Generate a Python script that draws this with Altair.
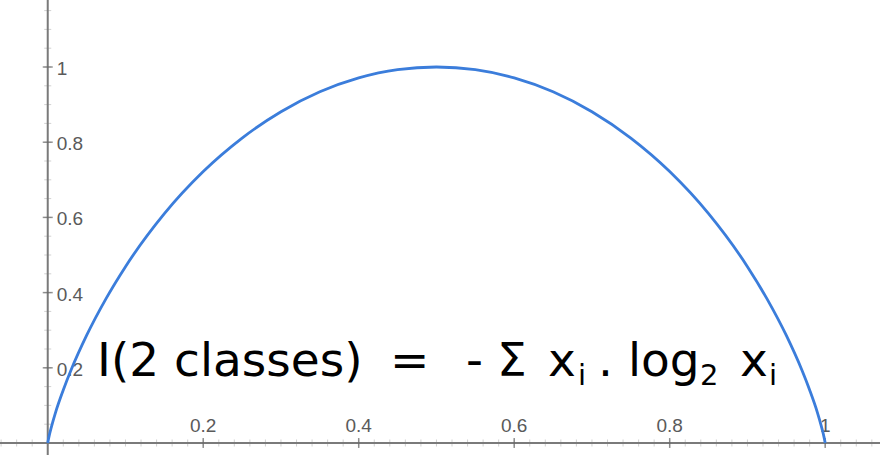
import altair as alt
import pandas as pd

# Binary entropy curve, sampled along p
p_vals = [0, 0.001, 0.005, 0.01, 0.02, 0.03, 0.05, 0.075, 0.1, 0.15, 0.2, 0.25,
          0.3, 0.35, 0.4, 0.45, 0.5, 0.55, 0.6, 0.65, 0.7, 0.75, 0.8, 0.85, 0.9,
          0.925, 0.95, 0.97, 0.98, 0.99, 0.995, 0.999, 1]
h_vals = [0, 0.011, 0.045, 0.081, 0.141, 0.194, 0.286, 0.384, 0.469, 0.610, 0.722,
          0.811, 0.881, 0.934, 0.971, 0.993, 1.0, 0.993, 0.971, 0.934, 0.881, 0.811,
          0.722, 0.610, 0.469, 0.384, 0.286, 0.194, 0.141, 0.081, 0.045, 0.011, 0]

# Axis ticks and labels
x_major = [0.2, 0.4, 0.6, 0.8, 1.0]
x_labels = ["0.2", "0.4", "0.6", "0.8", "1"]
y_major = [0.2, 0.4, 0.6, 0.8, 1.0]
y_labels = ["0.2", "0.4", "0.6", "0.8", "1"]
x_minor = [round(-0.06 + 0.02 * i, 2) for i in range(57)]
y_minor = [round(-0.05 + 0.05 * i, 2) for i in range(25)]

# Formula pieces: main text and subscripts
formula_parts = ["I(2 classes)", "=", "-", "\u03a3", "x", "i", ".", "log", "2", "x", "i"]
formula_is_sub = [False, False, False, False, False, True, False, False, True, False, True]

X_DOMAIN = [-0.0614, 1.0705]
Y_DOMAIN = [-0.0319, 1.1782]

# Where each formula piece starts, in data units along x
formula_anchor = [0.0634, 0.4403, 0.5380, 0.5779, 0.6435, 0.6821, 0.7078, 0.7464, 0.8390, 0.8904, 0.9277]
MAIN_BASELINE = 0.1782
SUB_BASELINE = 0.1543

xs = alt.Scale(domain=X_DOMAIN, nice=False, zero=False)
ys = alt.Scale(domain=Y_DOMAIN, nice=False, zero=False)

AXIS_GRAY = "#7a7a7a"
LABEL_GRAY = "#5a5a5a"

curve = alt.Chart(pd.DataFrame({"p": p_vals, "h": h_vals})).mark_line(
    color="#3b7ddb", strokeWidth=2.8, interpolate="monotone"
).encode(
    x=alt.X("p:Q", scale=xs, axis=None),
    y=alt.Y("h:Q", scale=ys, axis=None),
)

x_axis = alt.Chart(pd.DataFrame({"y": [0]})).mark_rule(
    color=AXIS_GRAY, strokeWidth=2
).encode(y=alt.Y("y:Q", scale=ys, axis=None))

y_axis = alt.Chart(pd.DataFrame({"x": [0]})).mark_rule(
    color=AXIS_GRAY, strokeWidth=2
).encode(x=alt.X("x:Q", scale=xs, axis=None))

x_minor_ticks = alt.Chart(pd.DataFrame({"x": x_minor, "y": [0] * len(x_minor)})).mark_tick(
    orient="vertical", size=7, thickness=1, color="#bdbdbd"
).encode(x=alt.X("x:Q", scale=xs, axis=None), y=alt.Y("y:Q", scale=ys, axis=None))

y_minor_ticks = alt.Chart(pd.DataFrame({"y": y_minor, "x": [0] * len(y_minor)})).mark_tick(
    orient="horizontal", size=7, thickness=1, color="#bdbdbd"
).encode(x=alt.X("x:Q", scale=xs, axis=None), y=alt.Y("y:Q", scale=ys, axis=None))

x_major_ticks = alt.Chart(pd.DataFrame({"x": x_major, "y": [0] * len(x_major)})).mark_tick(
    orient="vertical", size=10, thickness=1.5, color="#666666"
).encode(x=alt.X("x:Q", scale=xs, axis=None), y=alt.Y("y:Q", scale=ys, axis=None))

y_major_ticks = alt.Chart(pd.DataFrame({"y": y_major, "x": [0] * len(y_major)})).mark_tick(
    orient="horizontal", size=10, thickness=1.5, color="#666666"
).encode(x=alt.X("x:Q", scale=xs, axis=None), y=alt.Y("y:Q", scale=ys, axis=None))

x_text = alt.Chart(pd.DataFrame({"x": x_major, "y": [0] * len(x_major), "t": x_labels})).mark_text(
    font="Liberation Sans", fontSize=19, color=LABEL_GRAY, align="center",
    baseline="alphabetic", dy=-11
).encode(x=alt.X("x:Q", scale=xs, axis=None), y=alt.Y("y:Q", scale=ys, axis=None), text="t:N")

y_text = alt.Chart(pd.DataFrame({"y": y_major, "x": [0] * len(y_major), "t": y_labels})).mark_text(
    font="Liberation Sans", fontSize=19, color=LABEL_GRAY, align="left",
    baseline="middle", dx=9, dy=2
).encode(x=alt.X("x:Q", scale=xs, axis=None), y=alt.Y("y:Q", scale=ys, axis=None), text="t:N")

formula_df = pd.DataFrame({
    "x": formula_anchor,
    "y": [SUB_BASELINE if s else MAIN_BASELINE for s in formula_is_sub],
    "t": formula_parts,
    "sub": formula_is_sub,
})

formula_main = alt.Chart(formula_df).transform_filter("!datum.sub").mark_text(
    font="DejaVu Sans", fontSize=47, color="#000000", align="left", baseline="alphabetic"
).encode(x=alt.X("x:Q", scale=xs, axis=None), y=alt.Y("y:Q", scale=ys, axis=None), text="t:N")

formula_sub = alt.Chart(formula_df).transform_filter("datum.sub").mark_text(
    font="DejaVu Sans", fontSize=29, color="#000000", align="left", baseline="alphabetic"
).encode(x=alt.X("x:Q", scale=xs, axis=None), y=alt.Y("y:Q", scale=ys, axis=None), text="t:N")

chart = alt.layer(
    x_minor_ticks, y_minor_ticks, x_axis, y_axis, x_major_ticks, y_major_ticks,
    x_text, y_text, curve, formula_main, formula_sub
).properties(
    width=880, height=455, padding=0,
    autosize=alt.AutoSizeParams(type="none"),
    background="#ffffff",
).configure_view(stroke=None)

chart.save("out.html", embed_options={"renderer": "svg", "actions": False})
